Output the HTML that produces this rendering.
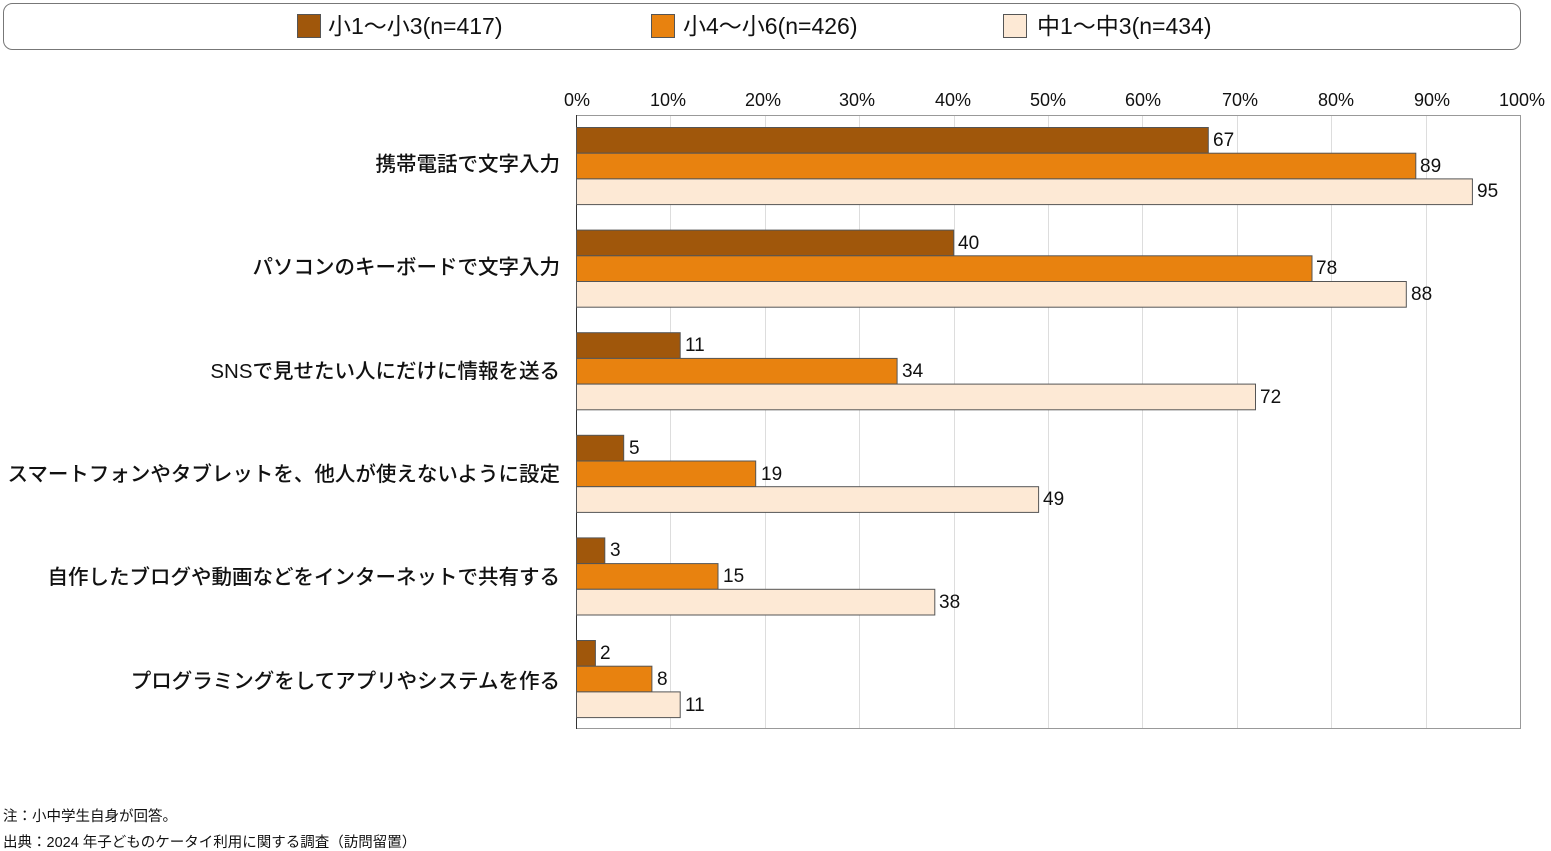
<!DOCTYPE html>
<html><head><meta charset="utf-8"><style>
body{margin:0;background:#fff;width:1551px;height:851px;overflow:hidden}
svg{display:block}
text{font-family:"Liberation Sans","Noto Sans CJK JP",sans-serif;fill:#111}
</style></head><body>
<svg width="1551" height="851" xmlns="http://www.w3.org/2000/svg">
<rect x="3.5" y="3.5" width="1517" height="46" rx="9" fill="#fff" stroke="#777" stroke-width="1"/>
<rect x="297.5" y="14.5" width="23" height="23" fill="#A0570B" stroke="#555"/>
<text x="328" y="34" font-size="23">小1～小3(n=417)</text>
<rect x="651.5" y="14.5" width="23" height="23" fill="#E8820F" stroke="#555"/>
<text x="683" y="34" font-size="23">小4～小6(n=426)</text>
<rect x="1003.5" y="14.5" width="23" height="23" fill="#FDE9D5" stroke="#555"/>
<text x="1037" y="34" font-size="23">中1～中3(n=434)</text>
<g stroke="#ddd" stroke-width="1">
<line x1="670.5" y1="115" x2="670.5" y2="729"/><line x1="765.5" y1="115" x2="765.5" y2="729"/>
<line x1="859.5" y1="115" x2="859.5" y2="729"/><line x1="954.5" y1="115" x2="954.5" y2="729"/>
<line x1="1048.5" y1="115" x2="1048.5" y2="729"/><line x1="1142.5" y1="115" x2="1142.5" y2="729"/>
<line x1="1237.5" y1="115" x2="1237.5" y2="729"/><line x1="1331.5" y1="115" x2="1331.5" y2="729"/>
<line x1="1426.5" y1="115" x2="1426.5" y2="729"/>
</g>
<rect x="576.5" y="115.5" width="944" height="613" fill="none" stroke="#999"/>
<line x1="576.5" y1="115" x2="576.5" y2="729" stroke="#333"/>
<g font-size="18" text-anchor="middle">
<text x="577" y="106">0%</text><text x="668" y="106">10%</text><text x="763" y="106">20%</text>
<text x="857" y="106">30%</text><text x="953" y="106">40%</text><text x="1048" y="106">50%</text>
<text x="1143" y="106">60%</text><text x="1240" y="106">70%</text><text x="1336" y="106">80%</text>
<text x="1432" y="106">90%</text><text x="1522" y="106">100%</text>
</g>
<g stroke="#555" stroke-width="1">
<rect x="576.5" y="127.5" width="631.8" height="25.7" fill="#A0570B"/>
<rect x="576.5" y="153.2" width="839.3" height="25.7" fill="#E8820F"/>
<rect x="576.5" y="178.9" width="895.9" height="25.7" fill="#FDE9D5"/>
<rect x="576.5" y="230.1" width="377.2" height="25.7" fill="#A0570B"/>
<rect x="576.5" y="255.8" width="735.5" height="25.7" fill="#E8820F"/>
<rect x="576.5" y="281.5" width="829.8" height="25.7" fill="#FDE9D5"/>
<rect x="576.5" y="332.7" width="103.7" height="25.7" fill="#A0570B"/>
<rect x="576.5" y="358.4" width="320.6" height="25.7" fill="#E8820F"/>
<rect x="576.5" y="384.1" width="679" height="25.7" fill="#FDE9D5"/>
<rect x="576.5" y="435.3" width="47.2" height="25.7" fill="#A0570B"/>
<rect x="576.5" y="461" width="179.2" height="25.7" fill="#E8820F"/>
<rect x="576.5" y="486.7" width="462.1" height="25.7" fill="#FDE9D5"/>
<rect x="576.5" y="537.9" width="28.3" height="25.7" fill="#A0570B"/>
<rect x="576.5" y="563.6" width="141.5" height="25.7" fill="#E8820F"/>
<rect x="576.5" y="589.3" width="358.3" height="25.7" fill="#FDE9D5"/>
<rect x="576.5" y="640.5" width="18.9" height="25.7" fill="#A0570B"/>
<rect x="576.5" y="666.2" width="75.4" height="25.7" fill="#E8820F"/>
<rect x="576.5" y="691.9" width="103.7" height="25.7" fill="#FDE9D5"/>
</g>
<g font-size="19">
<text x="1213" y="146">67</text><text x="1420" y="172">89</text><text x="1477" y="197">95</text>
<text x="958" y="249">40</text><text x="1316" y="274">78</text><text x="1411" y="300">88</text>
<text x="685" y="351">11</text><text x="902" y="377">34</text><text x="1260" y="403">72</text>
<text x="629" y="454">5</text><text x="761" y="480">19</text><text x="1043" y="505">49</text>
<text x="610" y="556">3</text><text x="723" y="582">15</text><text x="939" y="608">38</text>
<text x="600" y="659">2</text><text x="657" y="685">8</text><text x="685" y="711">11</text>
</g>
<g font-size="20.5" text-anchor="end" font-weight="500">
<text x="560" y="171">携帯電話で文字入力</text>
<text x="560" y="274">パソコンのキーボードで文字入力</text>
<text x="560" y="378">SNSで見せたい人にだけに情報を送る</text>
<text x="560" y="481">スマートフォンやタブレットを、他人が使えないように設定</text>
<text x="560" y="584">自作したブログや動画などをインターネットで共有する</text>
<text x="560" y="688">プログラミングをしてアプリやシステムを作る</text>
</g>
<text x="3" y="821" font-size="14.5">注：小中学生自身が回答。</text>
<text x="3" y="847" font-size="14.5">出典：2024 年子どものケータイ利用に関する調査（訪問留置）</text>
</svg>
</body></html>
